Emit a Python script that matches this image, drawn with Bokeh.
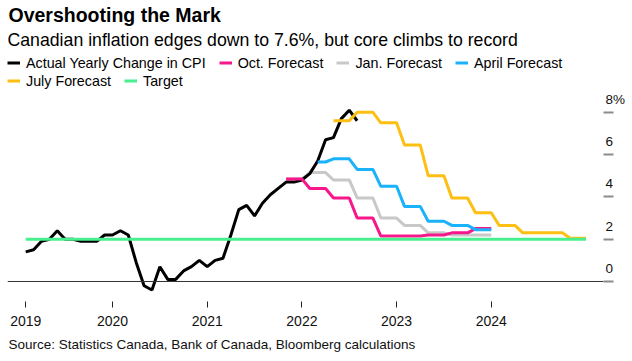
from bokeh.plotting import figure
from bokeh.models import (Range1d, FixedTicker, PrintfTickFormatter, Span, Title,
                          Legend, LegendItem, Label, LinearAxis)
from bokeh.embed import file_html
from bokeh.resources import INLINE

FONT = "Liberation Sans"

# ---------------- data ----------------
# Actual yearly change in CPI, monthly from Jan 2019 to Jul 2022
cpi_start_year = 2019
cpi_actual = [1.4, 1.5, 1.9, 2.0, 2.4, 2.0, 2.0, 1.9, 1.9, 1.9, 2.2, 2.2,
              2.4, 2.2, 0.9, -0.2, -0.4, 0.7, 0.1, 0.1, 0.5, 0.7, 1.0, 0.7,
              1.0, 1.1, 2.2, 3.4, 3.6, 3.1, 3.7, 4.1, 4.4, 4.7, 4.7, 4.8,
              5.1, 5.7, 6.7, 6.8, 7.7, 8.1, 7.6]

# Bank of Canada forecasts, quarterly values (first quarter given as year, quarter)
oct_first_q = (2021, 4)
oct_forecast = [4.85, 4.4, 3.95, 3.0, 2.15, 2.15, 2.2, 2.3, 2.5]
jan_first_q = (2021, 4)
jan_forecast = [4.85, 5.15, 4.8, 3.95, 3.0, 2.65, 2.3, 2.2, 2.2]
apr_first_q = (2022, 1)
apr_skip_months = 1
apr_forecast = [5.65, 5.8, 5.3, 4.5, 3.55, 2.85, 2.65, 2.45]
jul_first_q = (2022, 2)
jul_forecast = [7.6, 8.0, 7.5, 6.45, 5.0, 3.95, 3.25, 2.65, 2.3, 2.3, 2.05]

target_value = 2.0
target_end_year = 2025

x_tick_values = [2019 + 1 / 12, 2020, 2021, 2022, 2023, 2024]
y_tick_values = [0, 2, 4, 6, 8]
y_tick_labels = ["0", "2", "4", "6", "8%"]

legend_names = ["Actual Yearly Change in CPI", "Oct. Forecast", "Jan. Forecast",
                "April Forecast", "July Forecast", "Target"]

TITLE = "Overshooting the Mark"
SUBTITLE = "Canadian inflation edges down to 7.6%, but core climbs to record"
SOURCE = "Source: Statistics Canada, Bank of Canada, Bloomberg calculations"

COLORS = {
    "actual": "#000000",
    "oct": "#f7168c",
    "jan": "#c8c8c8",
    "apr": "#1ab2fa",
    "jul": "#fdbf11",
    "target": "#48ef8e",
}


def cpi_x(n):
    return [cpi_start_year + (i + 1) / 12 for i in range(n)]


def expand_quarters(first_q, values, skip=0):
    y0, q0 = first_q
    xs, ys = [], []
    for k, v in enumerate(values):
        qi = (q0 - 1) + k
        year = y0 + qi // 4
        q = qi % 4
        for j in range(3):
            m = 3 * q + j + 1
            xs.append(year + m / 12)
            ys.append(v)
    return xs[skip:], ys[skip:]


# ---------------- figure ----------------
# frame spans from the top of the canvas down to the axis (title block sits inside it)
W, H = 632, 361
p = figure(width=W, height=H, output_backend="svg", toolbar_location=None,
           x_range=Range1d(2018.891, 2025.185), y_range=Range1d(-0.946, 13.286),
           y_axis_location="right", x_axis_location="below",
           min_border_left=7, min_border_right=29, min_border_top=0,
           min_border_bottom=60)
p.outline_line_color = None
p.xgrid.visible = False
p.ygrid.visible = False
p.background_fill_color = "white"
p.border_fill_color = "white"

# x axis
xa = p.xaxis[0]
xa.ticker = FixedTicker(ticks=x_tick_values)
xa.formatter = PrintfTickFormatter(format="%d")
xa.axis_line_color = None
xa.major_tick_in = 0
xa.major_tick_out = 6
xa.major_tick_line_color = "#222222"
xa.minor_tick_line_color = None
xa.major_label_text_font = FONT
xa.major_label_text_font_size = "14px"
xa.major_label_text_color = "#111111"
xa.major_label_standoff = 8

# y axis (right): gray marks at the values, labels sitting just above them
LABEL_LIFT = 0.615  # lift of the label above its mark, in axis units (~13 px)
label_pos = [v + LABEL_LIFT for v in y_tick_values]
ya = p.yaxis[0]
ya.ticker = FixedTicker(ticks=label_pos, minor_ticks=y_tick_values)
ya.major_label_overrides = {pos: lab for pos, lab in zip(label_pos, y_tick_labels)}
ya.axis_line_color = None
ya.major_tick_in = 0
ya.major_tick_out = 0
ya.major_tick_line_color = None
ya.minor_tick_in = 0
ya.minor_tick_out = 10
ya.minor_tick_line_color = "#8c8c8c"
ya.minor_tick_line_width = 2
ya.major_label_standoff = -8
ya.major_label_text_font = FONT
ya.major_label_text_font_size = "13.5px"
ya.major_label_text_color = "#111111"

# empty spacer axis between the year labels and the source line
spacer = LinearAxis(ticker=FixedTicker(ticks=[]), axis_line_color=None,
                    major_tick_in=0, major_tick_out=11, major_tick_line_color=None,
                    minor_tick_line_color=None, major_label_standoff=0)
p.add_layout(spacer, "below")

# zero line
p.add_layout(Span(location=0, dimension="width", line_color="#333333", line_width=1))

LW = 3
xs, ys = expand_quarters(jan_first_q, jan_forecast)
r_jan = p.line(xs, ys, line_color=COLORS["jan"], line_width=LW)
r_act = p.line(cpi_x(len(cpi_actual)), cpi_actual, line_color=COLORS["actual"], line_width=LW)
xs, ys = expand_quarters(oct_first_q, oct_forecast)
r_oct = p.line(xs, ys, line_color=COLORS["oct"], line_width=LW)
xs, ys = expand_quarters(apr_first_q, apr_forecast, skip=apr_skip_months)
r_apr = p.line(xs, ys, line_color=COLORS["apr"], line_width=LW)
xs, ys = expand_quarters(jul_first_q, jul_forecast)
r_jul = p.line(xs, ys, line_color=COLORS["jul"], line_width=LW)
r_tgt = p.line([cpi_x(1)[0], target_end_year], [target_value, target_value],
               line_color=COLORS["target"], line_width=LW)

renderers = [r_act, r_oct, r_jan, r_apr, r_jul, r_tgt]

FRAME_BOTTOM = 301  # px from top of canvas


def up(px_from_top):
    """screen offset measured upward from the frame bottom"""
    return FRAME_BOTTOM - px_from_top


def make_legend(idx, row_top):
    return Legend(items=[LegendItem(label=legend_names[i], renderers=[renderers[i]])
                         for i in idx],
                  orientation="horizontal", location=(0, up(row_top + 17)),
                  margin=0, padding=0, spacing=13, label_standoff=6,
                  glyph_width=13, glyph_height=17, label_height=17,
                  label_text_font=FONT, label_text_font_size="14.3px",
                  label_text_color="#000000",
                  border_line_color=None, background_fill_alpha=0)


p.add_layout(Label(x=1, y=up(14), x_units="screen", y_units="screen", text=TITLE,
                   text_font=FONT, text_font_size="19.5px", text_font_style="bold",
                   text_color="#000000", text_baseline="alphabetic"))
p.add_layout(Label(x=0, y=up(39), x_units="screen", y_units="screen", text=SUBTITLE,
                   text_font=FONT, text_font_size="17.7px", text_color="#000000",
                   text_baseline="alphabetic"))
p.add_layout(make_legend([0, 1, 2, 3], 54))
p.add_layout(make_legend([4, 5], 72))

p.add_layout(Title(text=SOURCE, text_font=FONT, text_font_size="13.5px",
                   text_font_style="normal", text_color="#111111", align="left",
                   offset=1, standoff=12), "below")

open("out.html", "w").write(file_html(p, INLINE))
